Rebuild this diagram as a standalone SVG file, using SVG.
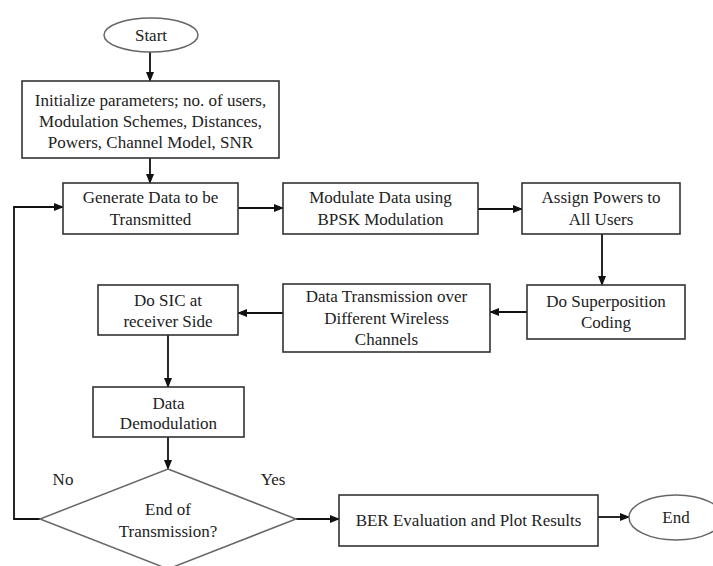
<svg xmlns="http://www.w3.org/2000/svg" width="713" height="566" viewBox="0 0 713 566">
<defs>
<marker id="ah" markerUnits="userSpaceOnUse" markerWidth="10" markerHeight="8" refX="9" refY="4" orient="auto">
<path d="M0,0 L10,4 L0,8 Z" fill="#111"/>
</marker>
<style>
.box{fill:#fff;stroke:#333;stroke-width:1.6}
.term{fill:#fff;stroke:#666;stroke-width:1.5}
.t{font-family:'Liberation Serif','DejaVu Serif',serif;font-size:17px;fill:#222;text-anchor:middle}
.c{fill:none;stroke:#111;stroke-width:1.8}
</style>
</defs>
<rect width="713" height="566" fill="#fff"/>
<g id="connectors">
<path class="c" d="M150 52 V81" marker-end="url(#ah)"/>
<path class="c" d="M150 158 V183" marker-end="url(#ah)"/>
<path class="c" d="M238 208 H283" marker-end="url(#ah)"/>
<path class="c" d="M478 209 H522" marker-end="url(#ah)"/>
<path class="c" d="M602 234 V285" marker-end="url(#ah)"/>
<path class="c" d="M527 312 H490" marker-end="url(#ah)"/>
<path class="c" d="M283 313 H238" marker-end="url(#ah)"/>
<path class="c" d="M168 335 V387" marker-end="url(#ah)"/>
<path class="c" d="M168 437 V469" marker-end="url(#ah)"/>
<path class="c" d="M296 519 H339" marker-end="url(#ah)"/>
<path class="c" d="M598 517 H629" marker-end="url(#ah)"/>
<path class="c" d="M40 519 H14 V207 H63" marker-end="url(#ah)"/>
<text class="t" x="63" y="485">No</text>
<text class="t" x="273" y="485">Yes</text>
</g>
<g id="start">
<ellipse class="term" cx="151" cy="35" rx="47" ry="17"/>
<text class="t" x="151" y="41">Start</text>
</g>
<g id="init">
<rect class="box" x="22" y="81" width="257" height="77"/>
<text class="t" x="150.5" y="106">Initialize parameters; no. of users,</text>
<text class="t" x="150.5" y="127">Modulation Schemes, Distances,</text>
<text class="t" x="150.5" y="148">Powers, Channel Model, SNR</text>
</g>
<g id="generate">
<rect class="box" x="63" y="183" width="175" height="51"/>
<text class="t" x="150.5" y="203">Generate Data to be</text>
<text class="t" x="150.5" y="225">Transmitted</text>
</g>
<g id="modulate">
<rect class="box" x="283" y="183" width="195" height="51"/>
<text class="t" x="380.5" y="203">Modulate Data using</text>
<text class="t" x="380.5" y="225">BPSK Modulation</text>
</g>
<g id="assign">
<rect class="box" x="522" y="183" width="158" height="51"/>
<text class="t" x="601" y="203">Assign Powers to</text>
<text class="t" x="601" y="225">All Users</text>
</g>
<g id="superposition">
<rect class="box" x="527" y="285" width="158" height="54"/>
<text class="t" x="606" y="307">Do Superposition</text>
<text class="t" x="606" y="328">Coding</text>
</g>
<g id="transmission">
<rect class="box" x="283" y="284" width="207" height="68"/>
<text class="t" x="386.5" y="302">Data Transmission over</text>
<text class="t" x="386.5" y="324">Different Wireless</text>
<text class="t" x="386.5" y="345">Channels</text>
</g>
<g id="sic">
<rect class="box" x="98" y="285" width="140" height="50"/>
<text class="t" x="168" y="306">Do SIC at</text>
<text class="t" x="168" y="327">receiver Side</text>
</g>
<g id="demod">
<rect class="box" x="93" y="387" width="151" height="50"/>
<text class="t" x="168.5" y="409">Data</text>
<text class="t" x="168.5" y="429">Demodulation</text>
</g>
<g id="decision">
<polygon class="term" points="168,469 296,519 168,569 40,519"/>
<text class="t" x="168" y="515">End of</text>
<text class="t" x="168" y="537">Transmission?</text>
</g>
<g id="ber">
<rect class="box" x="339" y="495" width="259" height="51"/>
<text class="t" x="468.5" y="526">BER Evaluation and Plot Results</text>
</g>
<g id="end">
<ellipse class="term" cx="676" cy="517.5" rx="47" ry="22.5"/>
<text class="t" x="676" y="523">End</text>
</g>
</svg>
